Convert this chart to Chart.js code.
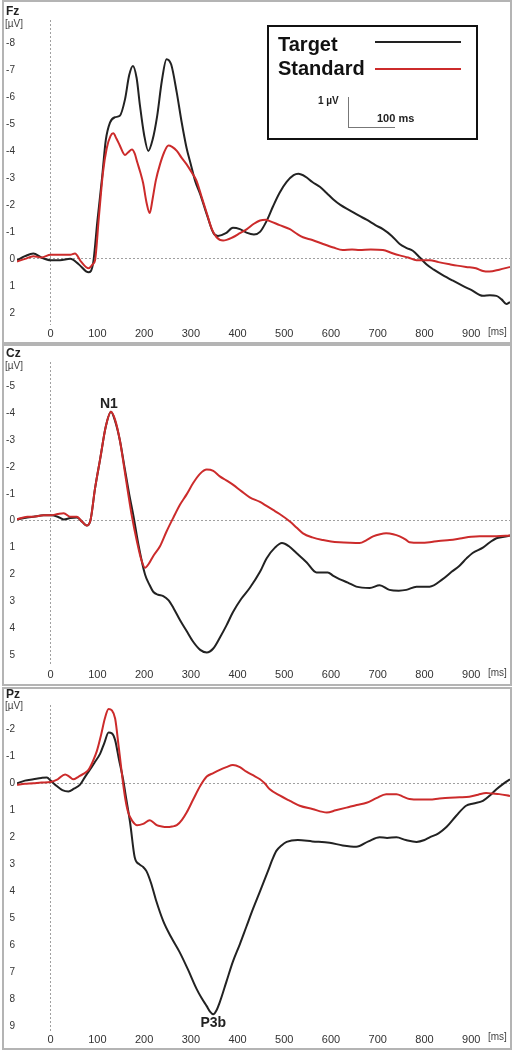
<!DOCTYPE html>
<html>
<head>
<meta charset="utf-8">
<script src="https://cdn.jsdelivr.net/npm/chart.js@4.4.1/dist/chart.umd.min.js"></script>
<style>
body { margin: 0; background: #fff; font-family: "Liberation Sans", Arial, sans-serif; }
#page { position: relative; width: 513px; height: 1050px; overflow: hidden; }
.frame { position: absolute; left: 2px; width: 510px; border: 2px solid #b4b4b4; box-sizing: border-box; }
canvas { position: absolute; left: 4px; }
.txt { position: absolute; white-space: nowrap; line-height: 1; color: #222; }
.site { font-weight: bold; font-size: 12px; left: 6px; }
.unit { font-size: 10px; left: 5px; color: #444; }
.ms { font-size: 10px; left: 488px; color: #444; }
#legendBox { position: absolute; left: 267px; top: 25px; width: 211px; height: 115px; border: 2px solid #111; box-sizing: border-box; }
.leg { position: absolute; font-weight: bold; font-size: 20px; line-height: 1; color: #111; left: 9px; }
.legLine { position: absolute; left: 106px; width: 86px; height: 2px; }
.bar { position: absolute; background: #777; }
.barTxt { position: absolute; font-weight: bold; line-height: 1; color: #222; }
</style>
</head>
<body>
<div id="page">
  <div class="frame" style="top:0px;height:344px"></div>
  <div class="frame" style="top:344px;height:342px"></div>
  <div class="frame" style="top:687px;height:363px"></div>

  <canvas id="fzChart" width="506" height="328" style="top:12px"></canvas>
  <canvas id="czChart" width="506" height="327" style="top:354px"></canvas>
  <canvas id="pzChart" width="506" height="349" style="top:697px"></canvas>

  <div class="txt site" style="top:5px">Fz</div>
  <div class="txt unit" style="top:19px">[µV]</div>
  <div class="txt site" style="top:347px">Cz</div>
  <div class="txt unit" style="top:361px">[µV]</div>
  <div class="txt site" style="top:688px">Pz</div>
  <div class="txt unit" style="top:701px">[µV]</div>

  <div class="txt ms" style="top:327px">[ms]</div>
  <div class="txt ms" style="top:668px">[ms]</div>
  <div class="txt ms" style="top:1032px">[ms]</div>

  <div id="legendBox">
    <div class="leg" style="top:7px">Target</div>
    <div class="leg" style="top:31px">Standard</div>
    <div class="legLine" style="top:14px;background:#222"></div>
    <div class="legLine" style="top:41px;background:#cc2b2b"></div>
    <div class="barTxt" style="left:49px;top:69px;font-size:10px">1 µV</div>
    <div class="bar" style="left:79px;top:70px;width:1px;height:30px"></div>
    <div class="bar" style="left:79px;top:100px;width:47px;height:1px"></div>
    <div class="barTxt" style="left:108px;top:86px;font-size:11px">100 ms</div>
  </div>
</div>
<script>
// time axis (ms) and tick labels
const xTicks = [0, 100, 200, 300, 400, 500, 600, 700, 800, 900];
const fzTicks = [-8, -7, -6, -5, -4, -3, -2, -1, 0, 1, 2];
const czTicks = [-5, -4, -3, -2, -1, 0, 1, 2, 3, 4, 5];
const pzTicks = [-2, -1, 0, 1, 2, 3, 4, 5, 6, 7, 8, 9];

// Fz
const fzTargetMs = [-72,-55,-37,-20,0,20,42,60,81,91,100,110,118,127,138,148,159,168,176,184,191,200,209,218,228,238,248,258,270,280,291,300,309,320,335,348,358,375,390,405,419,435,448,462,476,490,505,520,530,545,560,576,590,605,620,640,660,676,695,711,730,747,762,775,790,804,820,839,860,882,900,925,940,954,965,975,983];
const fzTargetUv = [0.05,-0.1,-0.2,-0.05,0.05,0.05,0.0,0.2,0.5,0.15,-1.4,-3.0,-4.4,-5.05,-5.25,-5.3,-5.9,-6.8,-7.15,-6.7,-5.7,-4.6,-4.0,-4.4,-5.3,-6.6,-7.4,-7.2,-6.15,-5.1,-4.1,-3.5,-2.9,-2.4,-1.6,-0.97,-0.85,-0.95,-1.15,-1.1,-0.97,-0.9,-1.0,-1.4,-1.95,-2.45,-2.85,-3.1,-3.15,-3.05,-2.85,-2.67,-2.45,-2.2,-2.0,-1.8,-1.6,-1.45,-1.25,-1.1,-0.85,-0.55,-0.4,-0.3,-0.05,0.2,0.4,0.6,0.8,1.0,1.15,1.37,1.35,1.37,1.5,1.67,1.6];
const fzStandardMs = [-72,-55,-37,-20,0,20,42,52,65,81,90,95,103,112,120,128,134,141,148,159,166,174,180,185,192,198,205,212,218,225,234,243,252,260,270,280,291,302,312,323,334,345,355,369,390,405,420,435,448,460,469,490,512,525,540,560,583,605,625,645,661,685,711,730,747,765,783,800,811,830,854,870,889,910,925,939,960,983];
const fzStandardUv = [0.1,0.0,-0.1,-0.05,-0.15,-0.15,-0.15,-0.2,0.1,0.35,0.2,0.05,-1.5,-3.2,-4.1,-4.55,-4.65,-4.45,-4.2,-3.85,-3.95,-4.05,-3.9,-3.6,-3.2,-2.8,-2.1,-1.7,-2.2,-2.9,-3.5,-3.95,-4.2,-4.15,-4.0,-3.75,-3.5,-3.2,-2.9,-2.3,-1.7,-1.1,-0.8,-0.68,-0.8,-0.95,-1.1,-1.3,-1.42,-1.45,-1.4,-1.25,-1.1,-0.95,-0.8,-0.7,-0.55,-0.42,-0.33,-0.35,-0.33,-0.35,-0.33,-0.22,-0.13,-0.05,0.05,0.05,0.05,0.12,0.2,0.25,0.3,0.35,0.45,0.47,0.4,0.3];

// Cz
const czTargetMs = [-72,-50,-37,-15,0,15,28,42,56,68,77,85,95,106,118,129,138,148,158,168,177,188,202,212,220,230,241,252,263,277,291,305,320,334,348,362,376,390,408,426,448,462,480,495,510,526,548,569,593,605,618,636,654,683,704,725,745,761,783,811,839,858,875,890,903,925,940,954,970,983];
const czTargetUv = [-0.05,-0.12,-0.15,-0.2,-0.2,-0.15,-0.05,-0.1,-0.12,0.05,0.18,0.0,-1.2,-2.3,-3.5,-4.05,-3.7,-3.0,-2.0,-1.0,-0.2,0.9,2.0,2.4,2.65,2.75,2.8,2.95,3.25,3.7,4.1,4.5,4.8,4.9,4.75,4.35,3.9,3.4,2.9,2.5,1.9,1.4,1.0,0.83,0.95,1.2,1.55,1.92,1.92,2.05,2.17,2.3,2.45,2.5,2.4,2.57,2.6,2.57,2.45,2.45,2.17,1.9,1.67,1.4,1.2,1.0,0.8,0.65,0.6,0.55];
const czStandardMs = [-72,-50,-37,-15,0,15,28,42,56,68,77,85,95,106,118,129,138,148,158,166,173,185,194,202,210,220,234,248,263,277,291,305,320,334,348,362,376,390,408,426,448,462,476,490,512,526,540,560,583,600,618,640,661,676,690,705,718,733,747,760,768,790,811,830,854,880,900,918,954,983];
const czStandardUv = [-0.05,-0.15,-0.15,-0.2,-0.2,-0.25,-0.28,-0.15,-0.15,0.05,0.18,0.0,-1.2,-2.3,-3.5,-4.05,-3.75,-3.0,-1.9,-1.0,-0.25,0.8,1.45,1.75,1.6,1.3,0.95,0.4,-0.13,-0.6,-0.98,-1.4,-1.75,-1.9,-1.85,-1.65,-1.5,-1.34,-1.1,-0.87,-0.7,-0.55,-0.4,-0.25,0.03,0.25,0.47,0.62,0.72,0.77,0.8,0.82,0.83,0.72,0.58,0.5,0.47,0.5,0.58,0.7,0.8,0.82,0.8,0.75,0.72,0.65,0.6,0.58,0.58,0.55];

// Pz
const pzTargetMs = [-72,-55,-37,-20,-8,0,13,25,38,50,63,74,84,95,106,115,124,131,138,146,155,162,170,180,190,198,205,215,225,241,258,276,294,312,323,334,341,348,355,362,376,390,405,419,433,448,465,475,483,494,505,529,560,597,625,654,680,704,720,740,760,783,800,811,830,847,868,889,905,925,940,954,970,983];
const pzTargetUv = [0.0,-0.1,-0.15,-0.2,-0.22,-0.1,0.1,0.25,0.3,0.2,0.05,-0.25,-0.5,-0.8,-1.1,-1.5,-1.88,-1.85,-1.6,-0.9,-0.15,0.6,1.45,2.75,3.0,3.1,3.25,3.7,4.3,5.1,5.7,6.25,6.9,7.6,7.95,8.25,8.45,8.55,8.4,8.1,7.35,6.6,5.95,5.3,4.65,4.0,3.25,2.8,2.5,2.3,2.17,2.1,2.15,2.2,2.3,2.35,2.15,2.0,2.02,2.0,2.1,2.17,2.1,2.0,1.85,1.62,1.2,0.83,0.75,0.65,0.45,0.22,0.0,-0.15];
const pzStandardMs = [-72,-55,-37,-20,0,15,31,40,48,60,70,81,90,99,108,116,124,131,138,146,155,160,166,175,185,198,212,220,227,238,248,260,270,281,291,305,320,334,348,362,376,390,405,419,433,448,458,469,490,512,533,560,591,610,633,655,676,697,718,740,755,768,790,811,832,854,875,896,915,932,946,960,983];
const pzStandardUv = [0.05,0.02,0.0,-0.03,-0.05,-0.15,-0.33,-0.25,-0.15,-0.25,-0.35,-0.5,-0.8,-1.2,-1.8,-2.4,-2.75,-2.7,-2.4,-1.3,0.0,0.6,1.08,1.4,1.55,1.5,1.37,1.45,1.55,1.6,1.62,1.6,1.55,1.35,1.08,0.6,0.1,-0.25,-0.38,-0.5,-0.6,-0.68,-0.6,-0.43,-0.3,-0.15,0.0,0.22,0.45,0.65,0.83,0.95,1.08,1.0,0.9,0.8,0.72,0.55,0.4,0.4,0.5,0.58,0.6,0.6,0.56,0.53,0.52,0.5,0.42,0.36,0.38,0.4,0.47];

const xRange = [-72, 983];
const targetColor = '#222222';
const standardColor = '#cc2b2b';
const axisFont = { family: '"Liberation Sans", Arial, sans-serif' };

function pairs(ms, uv) {
  return ms.map((t, i) => ({ x: t, y: uv[i] }));
}

// writes a component name next to a peak, using the chart scales
const peakLabel = {
  id: 'peakLabel',
  afterDatasetsDraw(chart, args, opts) {
    if (!opts.text) return;
    const ctx = chart.ctx;
    const px = chart.scales.x.getPixelForValue(opts.ms);
    const py = chart.scales.y.getPixelForValue(opts.uv);
    ctx.save();
    ctx.font = 'bold 14px "Liberation Sans", Arial, sans-serif';
    ctx.fillStyle = '#222';
    ctx.textAlign = 'center';
    if (opts.below) {
      ctx.textBaseline = 'top';
      ctx.fillText(opts.text, px, py + 2);
    } else {
      ctx.textBaseline = 'bottom';
      ctx.fillText(opts.text, px - 2, py - 1);
    }
    ctx.restore();
  }
};

function zeroOnly(c) {
  return c.tick && c.tick.value === 0 ? '#a0a0a0' : 'rgba(0,0,0,0)';
}

function makePanel(id, target, standard, yMin, yMax, yTicks, peak) {
  const ctx = document.getElementById(id).getContext('2d');
  return new Chart(ctx, {
    type: 'line',
    data: {
      datasets: [
        { label: 'Standard', data: standard, borderColor: standardColor, borderWidth: 2 },
        { label: 'Target', data: target, borderColor: targetColor, borderWidth: 2 }
      ]
    },
    options: {
      responsive: false,
      animation: false,
      layout: { padding: 0, autoPadding: false },
      elements: {
        point: { radius: 0 },
        line: { cubicInterpolationMode: 'monotone', fill: false }
      },
      scales: {
        x: {
          type: 'linear',
          min: xRange[0],
          max: xRange[1],
          afterBuildTicks: s => { s.ticks = xTicks.map(v => ({ value: v })); },
          afterFit: s => { s.height = 15; },
          grid: { color: zeroOnly, drawTicks: false, lineWidth: 1 },
          border: { display: false, dash: [2, 2] },
          ticks: {
            padding: 2,
            color: '#333',
            font: Object.assign({ size: 11 }, axisFont),
            maxRotation: 0,
            autoSkip: false,
            callback: v => String(v)
          }
        },
        y: {
          type: 'linear',
          reverse: true,
          min: yMin,
          max: yMax,
          afterBuildTicks: s => { s.ticks = yTicks.map(v => ({ value: v })); },
          afterFit: s => { s.width = 13; },
          grid: { color: zeroOnly, drawTicks: false, lineWidth: 1 },
          border: { display: false, dash: [2, 2] },
          ticks: {
            padding: 2,
            color: '#333',
            font: Object.assign({ size: 10 }, axisFont),
            autoSkip: false,
            callback: v => String(v)
          }
        }
      },
      plugins: {
        legend: { display: false },
        tooltip: { enabled: false },
        peakLabel: peak || {}
      }
    },
    plugins: [peakLabel]
  });
}

makePanel('fzChart', pairs(fzTargetMs, fzTargetUv), pairs(fzStandardMs, fzStandardUv), -8.85, 2.45, fzTicks);
makePanel('czChart', pairs(czTargetMs, czTargetUv), pairs(czStandardMs, czStandardUv), -5.9, 5.4, czTicks,
  { text: 'N1', ms: 129, uv: -4.05 });
makePanel('pzChart', pairs(pzTargetMs, pzTargetUv), pairs(pzStandardMs, pzStandardUv), -2.9, 9.17, pzTicks,
  { text: 'P3b', ms: 348, uv: 8.55, below: true });
</script>
</body>
</html>
